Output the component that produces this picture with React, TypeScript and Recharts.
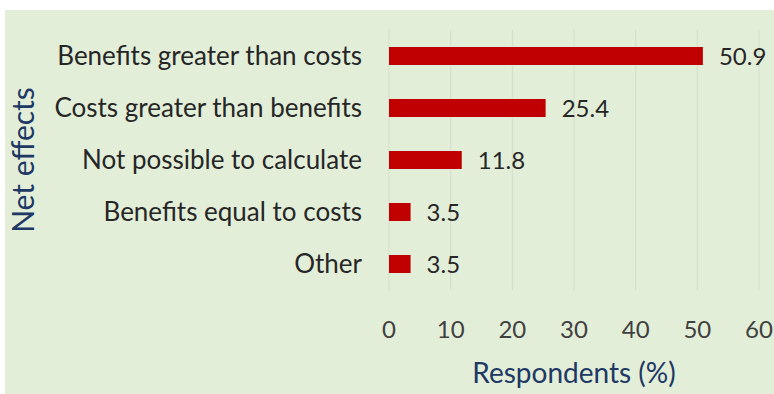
import { Bar, BarChart, CartesianGrid, LabelList, XAxis, YAxis } from "recharts";

const categories = [
  "Benefits greater than costs",
  "Costs greater than benefits",
  "Not possible to calculate",
  "Benefits equal to costs",
  "Other",
];
const respondents = [50.9, 25.4, 11.8, 3.5, 3.5];
const xTicks = [0, 10, 20, 30, 40, 50, 60];

const data = categories.map((name, i) => ({ name, value: respondents[i] }));

const FONT = "Lato, 'Open Sans', sans-serif";
const TITLE_BLUE = "#203864";

function XTitle(props: any) {
  const vb = props.viewBox || {};
  return (
    <text
      x={vb.x + vb.width / 2}
      y={vb.y + 82}
      textAnchor="middle"
      dominantBaseline="central"
      fill={TITLE_BLUE}
      fontSize={28}
      fontFamily={FONT}
    >
      Respondents (%)
    </text>
  );
}

function YTitle(props: any) {
  const vb = props.viewBox || {};
  const cx = 17;
  const cy = vb.y + vb.height / 2;
  return (
    <text
      x={cx}
      y={cy}
      transform={`rotate(-90, ${cx}, ${cy})`}
      textAnchor="middle"
      dominantBaseline="central"
      fill={TITLE_BLUE}
      fontSize={30}
      fontFamily={FONT}
    >
      Net effects
    </text>
  );
}

export default function App() {
  return (
    <div
      style={{
        position: "absolute",
        left: 5,
        top: 10,
        width: 769,
        height: 384,
        background: "#e3eed9",
      }}
    >
      <BarChart
        width={769}
        height={384}
        data={data}
        layout="vertical"
        margin={{ top: 20, right: 15, bottom: 0, left: 0 }}
      >
        <CartesianGrid horizontal={false} stroke="#d3dccb" strokeWidth={1} />
        <XAxis
          type="number"
          domain={[0, 60]}
          ticks={xTicks}
          axisLine={false}
          tickLine={false}
          tickSize={0}
          tickMargin={31}
          height={104}
          tick={{ fill: "#404040", fontSize: 24, fontFamily: FONT }}
          label={<XTitle />}
        />
        <YAxis
          type="category"
          dataKey="name"
          width={384}
          axisLine={false}
          tickLine={false}
          tickSize={0}
          tickMargin={27}
          tick={{ fill: "#262626", fontSize: 26, fontFamily: FONT }}
          label={<YTitle />}
        />
        <Bar dataKey="value" fill="#c00000" barSize={18} isAnimationActive={false}>
          <LabelList
            dataKey="value"
            position="right"
            offset={16}
            fill="#262626"
            fontSize={24}
            fontFamily={FONT}
            formatter={(v: any) => Number(v).toFixed(1)}
          />
        </Bar>
      </BarChart>
    </div>
  );
}
